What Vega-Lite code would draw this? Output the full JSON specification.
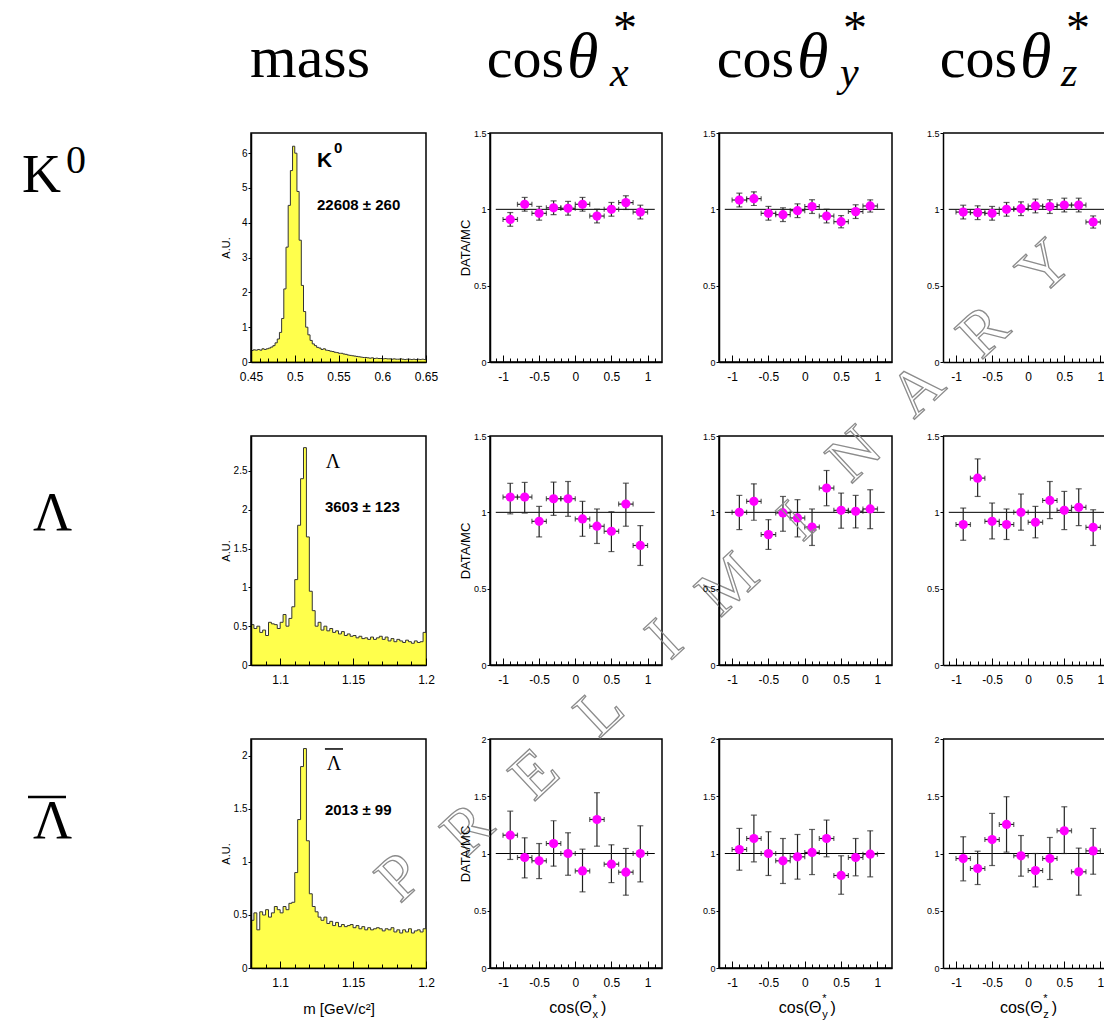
{
"$schema": "https://vega.github.io/schema/vega-lite/v6.json",
"padding": 0,
"background": "white",
"config": {
 "view": {"stroke": null},
 "font": "Liberation Sans",
 "axis": {"grid": false, "labelFont": "Liberation Sans", "labelColor": "#000", "labelFontSize": 11, "tickColor": "#000", "tickWidth": 1, "domainColor": "#000", "domainWidth": 1.5, "labelFlush": false, "labelOverlap": false, "titleFont": "Liberation Sans", "titleFontWeight": "normal", "titleColor": "#000", "zindex": 1, "tickCount": 100},
 "axisX": {"labelFontSize": 12},
 "axisY": {"labelFontSize": 9, "tickSize": 3, "labelPadding": 1}
},
"datasets": {
 "ratio": [
  {"p":"K0x","x":-0.9,"x0":-1,"x1":-0.8,"v":0.934,"lo":0.889,"hi":0.979},
  {"p":"K0x","x":-0.7,"x0":-0.8,"x1":-0.6,"v":1.033,"lo":0.988,"hi":1.078},
  {"p":"K0x","x":-0.5,"x0":-0.6,"x1":-0.4,"v":0.974,"lo":0.929,"hi":1.019},
  {"p":"K0x","x":-0.3,"x0":-0.4,"x1":-0.2,"v":1.010,"lo":0.965,"hi":1.055},
  {"p":"K0x","x":-0.1,"x0":-0.2,"x1":0,"v":1.007,"lo":0.962,"hi":1.052},
  {"p":"K0x","x":0.1,"x0":0,"x1":0.2,"v":1.033,"lo":0.988,"hi":1.078},
  {"p":"K0x","x":0.3,"x0":0.2,"x1":0.4,"v":0.956,"lo":0.911,"hi":1.001},
  {"p":"K0x","x":0.5,"x0":0.4,"x1":0.6,"v":1.000,"lo":0.955,"hi":1.045},
  {"p":"K0x","x":0.7,"x0":0.6,"x1":0.8,"v":1.044,"lo":0.999,"hi":1.089},
  {"p":"K0x","x":0.9,"x0":0.8,"x1":1,"v":0.982,"lo":0.937,"hi":1.027},
  {"p":"K0y","x":-0.9,"x0":-1,"x1":-0.8,"v":1.061,"lo":1.016,"hi":1.106},
  {"p":"K0y","x":-0.7,"x0":-0.8,"x1":-0.6,"v":1.070,"lo":1.025,"hi":1.115},
  {"p":"K0y","x":-0.5,"x0":-0.6,"x1":-0.4,"v":0.974,"lo":0.929,"hi":1.019},
  {"p":"K0y","x":-0.3,"x0":-0.4,"x1":-0.2,"v":0.965,"lo":0.920,"hi":1.010},
  {"p":"K0y","x":-0.1,"x0":-0.2,"x1":0,"v":0.991,"lo":0.946,"hi":1.036},
  {"p":"K0y","x":0.1,"x0":0,"x1":0.2,"v":1.018,"lo":0.973,"hi":1.063},
  {"p":"K0y","x":0.3,"x0":0.2,"x1":0.4,"v":0.956,"lo":0.911,"hi":1.001},
  {"p":"K0y","x":0.5,"x0":0.4,"x1":0.6,"v":0.919,"lo":0.879,"hi":0.959},
  {"p":"K0y","x":0.7,"x0":0.6,"x1":0.8,"v":0.985,"lo":0.940,"hi":1.030},
  {"p":"K0y","x":0.9,"x0":0.8,"x1":1,"v":1.022,"lo":0.982,"hi":1.062},
  {"p":"K0z","x":-0.9,"x0":-1,"x1":-0.8,"v":0.982,"lo":0.937,"hi":1.027},
  {"p":"K0z","x":-0.7,"x0":-0.8,"x1":-0.6,"v":0.978,"lo":0.933,"hi":1.023},
  {"p":"K0z","x":-0.5,"x0":-0.6,"x1":-0.4,"v":0.974,"lo":0.929,"hi":1.019},
  {"p":"K0z","x":-0.3,"x0":-0.4,"x1":-0.2,"v":1.000,"lo":0.955,"hi":1.045},
  {"p":"K0z","x":-0.1,"x0":-0.2,"x1":0,"v":1.004,"lo":0.959,"hi":1.049},
  {"p":"K0z","x":0.1,"x0":0,"x1":0.2,"v":1.022,"lo":0.977,"hi":1.067},
  {"p":"K0z","x":0.3,"x0":0.2,"x1":0.4,"v":1.018,"lo":0.973,"hi":1.063},
  {"p":"K0z","x":0.5,"x0":0.4,"x1":0.6,"v":1.028,"lo":0.983,"hi":1.073},
  {"p":"K0z","x":0.7,"x0":0.6,"x1":0.8,"v":1.028,"lo":0.983,"hi":1.073},
  {"p":"K0z","x":0.9,"x0":0.8,"x1":1,"v":0.917,"lo":0.877,"hi":0.957},
  {"p":"Lx","x":-0.9,"x0":-1,"x1":-0.8,"v":1.100,"lo":0.990,"hi":1.190},
  {"p":"Lx","x":-0.7,"x0":-0.8,"x1":-0.6,"v":1.100,"lo":0.995,"hi":1.196},
  {"p":"Lx","x":-0.5,"x0":-0.6,"x1":-0.4,"v":0.941,"lo":0.839,"hi":1.039},
  {"p":"Lx","x":-0.3,"x0":-0.4,"x1":-0.2,"v":1.089,"lo":0.980,"hi":1.198},
  {"p":"Lx","x":-0.1,"x0":-0.2,"x1":0,"v":1.089,"lo":0.974,"hi":1.202},
  {"p":"Lx","x":0.1,"x0":0,"x1":0.2,"v":0.957,"lo":0.843,"hi":1.072},
  {"p":"Lx","x":0.3,"x0":0.2,"x1":0.4,"v":0.909,"lo":0.796,"hi":1.022},
  {"p":"Lx","x":0.5,"x0":0.4,"x1":0.6,"v":0.876,"lo":0.743,"hi":1.004},
  {"p":"Lx","x":0.7,"x0":0.6,"x1":0.8,"v":1.054,"lo":0.909,"hi":1.191},
  {"p":"Lx","x":0.9,"x0":0.8,"x1":1,"v":0.783,"lo":0.652,"hi":0.913},
  {"p":"Ly","x":-0.9,"x0":-1,"x1":-0.8,"v":1.000,"lo":0.887,"hi":1.111},
  {"p":"Ly","x":-0.7,"x0":-0.8,"x1":-0.6,"v":1.072,"lo":0.948,"hi":1.187},
  {"p":"Ly","x":-0.5,"x0":-0.6,"x1":-0.4,"v":0.854,"lo":0.757,"hi":0.952},
  {"p":"Ly","x":-0.3,"x0":-0.4,"x1":-0.2,"v":0.996,"lo":0.876,"hi":1.104},
  {"p":"Ly","x":-0.1,"x0":-0.2,"x1":0,"v":0.963,"lo":0.839,"hi":1.083},
  {"p":"Ly","x":0.1,"x0":0,"x1":0.2,"v":0.904,"lo":0.783,"hi":1.022},
  {"p":"Ly","x":0.3,"x0":0.2,"x1":0.4,"v":1.159,"lo":1.043,"hi":1.274},
  {"p":"Ly","x":0.5,"x0":0.4,"x1":0.6,"v":1.013,"lo":0.896,"hi":1.126},
  {"p":"Ly","x":0.7,"x0":0.6,"x1":0.8,"v":1.007,"lo":0.898,"hi":1.111},
  {"p":"Ly","x":0.9,"x0":0.8,"x1":1,"v":1.022,"lo":0.893,"hi":1.148},
  {"p":"Lz","x":-0.9,"x0":-1,"x1":-0.8,"v":0.920,"lo":0.817,"hi":1.028},
  {"p":"Lz","x":-0.7,"x0":-0.8,"x1":-0.6,"v":1.224,"lo":1.104,"hi":1.350},
  {"p":"Lz","x":-0.5,"x0":-0.6,"x1":-0.4,"v":0.941,"lo":0.826,"hi":1.061},
  {"p":"Lz","x":-0.3,"x0":-0.4,"x1":-0.2,"v":0.920,"lo":0.822,"hi":1.022},
  {"p":"Lz","x":-0.1,"x0":-0.2,"x1":0,"v":1.000,"lo":0.883,"hi":1.120},
  {"p":"Lz","x":0.1,"x0":0,"x1":0.2,"v":0.935,"lo":0.833,"hi":1.039},
  {"p":"Lz","x":0.3,"x0":0.2,"x1":0.4,"v":1.078,"lo":0.959,"hi":1.202},
  {"p":"Lz","x":0.5,"x0":0.4,"x1":0.6,"v":1.013,"lo":0.887,"hi":1.137},
  {"p":"Lz","x":0.7,"x0":0.6,"x1":0.8,"v":1.033,"lo":0.913,"hi":1.154},
  {"p":"Lz","x":0.9,"x0":0.8,"x1":1,"v":0.902,"lo":0.783,"hi":1.017},
  {"p":"Bx","x":-0.9,"x0":-1,"x1":-0.8,"v":1.160,"lo":0.948,"hi":1.370},
  {"p":"Bx","x":-0.7,"x0":-0.8,"x1":-0.6,"v":0.965,"lo":0.787,"hi":1.137},
  {"p":"Bx","x":-0.5,"x0":-0.6,"x1":-0.4,"v":0.936,"lo":0.781,"hi":1.087},
  {"p":"Bx","x":-0.3,"x0":-0.4,"x1":-0.2,"v":1.087,"lo":0.889,"hi":1.286},
  {"p":"Bx","x":-0.1,"x0":-0.2,"x1":0,"v":1.000,"lo":0.810,"hi":1.181},
  {"p":"Bx","x":0.1,"x0":0,"x1":0.2,"v":0.848,"lo":0.665,"hi":1.038},
  {"p":"Bx","x":0.3,"x0":0.2,"x1":0.4,"v":1.297,"lo":1.064,"hi":1.531},
  {"p":"Bx","x":0.5,"x0":0.4,"x1":0.6,"v":0.907,"lo":0.746,"hi":1.076},
  {"p":"Bx","x":0.7,"x0":0.6,"x1":0.8,"v":0.837,"lo":0.636,"hi":1.044},
  {"p":"Bx","x":0.9,"x0":0.8,"x1":1,"v":1.000,"lo":0.752,"hi":1.242},
  {"p":"By","x":-0.9,"x0":-1,"x1":-0.8,"v":1.035,"lo":0.854,"hi":1.219},
  {"p":"By","x":-0.7,"x0":-0.8,"x1":-0.6,"v":1.131,"lo":0.927,"hi":1.335},
  {"p":"By","x":-0.5,"x0":-0.6,"x1":-0.4,"v":1.000,"lo":0.808,"hi":1.190},
  {"p":"By","x":-0.3,"x0":-0.4,"x1":-0.2,"v":0.936,"lo":0.738,"hi":1.131},
  {"p":"By","x":-0.1,"x0":-0.2,"x1":0,"v":0.971,"lo":0.776,"hi":1.166},
  {"p":"By","x":0.1,"x0":0,"x1":0.2,"v":1.009,"lo":0.816,"hi":1.210},
  {"p":"By","x":0.3,"x0":0.2,"x1":0.4,"v":1.131,"lo":0.971,"hi":1.292},
  {"p":"By","x":0.5,"x0":0.4,"x1":0.6,"v":0.808,"lo":0.644,"hi":0.980},
  {"p":"By","x":0.7,"x0":0.6,"x1":0.8,"v":0.965,"lo":0.805,"hi":1.131},
  {"p":"By","x":0.9,"x0":0.8,"x1":1,"v":0.994,"lo":0.796,"hi":1.198},
  {"p":"Bz","x":-0.9,"x0":-1,"x1":-0.8,"v":0.956,"lo":0.761,"hi":1.146},
  {"p":"Bz","x":-0.7,"x0":-0.8,"x1":-0.6,"v":0.869,"lo":0.729,"hi":1.020},
  {"p":"Bz","x":-0.5,"x0":-0.6,"x1":-0.4,"v":1.122,"lo":0.895,"hi":1.350},
  {"p":"Bz","x":-0.3,"x0":-0.4,"x1":-0.2,"v":1.254,"lo":1.012,"hi":1.496},
  {"p":"Bz","x":-0.1,"x0":-0.2,"x1":0,"v":0.980,"lo":0.802,"hi":1.157},
  {"p":"Bz","x":0.1,"x0":0,"x1":0.2,"v":0.851,"lo":0.708,"hi":1.000},
  {"p":"Bz","x":0.3,"x0":0.2,"x1":0.4,"v":0.956,"lo":0.773,"hi":1.140},
  {"p":"Bz","x":0.5,"x0":0.4,"x1":0.6,"v":1.198,"lo":1.000,"hi":1.408},
  {"p":"Bz","x":0.7,"x0":0.6,"x1":0.8,"v":0.840,"lo":0.636,"hi":1.047},
  {"p":"Bz","x":0.9,"x0":0.8,"x1":1,"v":1.023,"lo":0.819,"hi":1.219}
 ],
 "mK": [
  {"m":0.45,"n":0.33},{"m":0.4525,"n":0.35},{"m":0.455,"n":0.34},{"m":0.4575,"n":0.36},{"m":0.46,"n":0.34},
  {"m":0.4625,"n":0.38},{"m":0.465,"n":0.36},{"m":0.4675,"n":0.38},{"m":0.47,"n":0.40},{"m":0.4725,"n":0.43},
  {"m":0.475,"n":0.47},{"m":0.4775,"n":0.55},{"m":0.48,"n":0.66},{"m":0.4825,"n":0.85},{"m":0.485,"n":1.25},
  {"m":0.4875,"n":2.1},{"m":0.49,"n":3.3},{"m":0.4925,"n":4.5},{"m":0.495,"n":5.5},{"m":0.4975,"n":6.2},
  {"m":0.5,"n":6.0},{"m":0.5025,"n":4.9},{"m":0.505,"n":3.5},{"m":0.5075,"n":2.2},{"m":0.51,"n":1.45},
  {"m":0.5125,"n":1.0},{"m":0.515,"n":0.78},{"m":0.5175,"n":0.62},{"m":0.52,"n":0.52},{"m":0.5225,"n":0.47},
  {"m":0.525,"n":0.42},{"m":0.5275,"n":0.40},{"m":0.53,"n":0.36},{"m":0.5325,"n":0.38},{"m":0.535,"n":0.34},
  {"m":0.5375,"n":0.33},{"m":0.54,"n":0.31},{"m":0.5425,"n":0.30},{"m":0.545,"n":0.28},{"m":0.5475,"n":0.27},
  {"m":0.55,"n":0.25},{"m":0.5525,"n":0.25},{"m":0.555,"n":0.23},{"m":0.5575,"n":0.22},{"m":0.56,"n":0.20},
  {"m":0.5625,"n":0.19},{"m":0.565,"n":0.18},{"m":0.5675,"n":0.17},{"m":0.57,"n":0.16},{"m":0.5725,"n":0.15},
  {"m":0.575,"n":0.14},{"m":0.5775,"n":0.13},{"m":0.58,"n":0.13},{"m":0.5825,"n":0.12},{"m":0.585,"n":0.11},
  {"m":0.5875,"n":0.12},{"m":0.59,"n":0.10},{"m":0.5925,"n":0.11},{"m":0.595,"n":0.10},{"m":0.5975,"n":0.10},
  {"m":0.6,"n":0.09},{"m":0.6025,"n":0.10},{"m":0.605,"n":0.09},{"m":0.6075,"n":0.09},{"m":0.61,"n":0.08},
  {"m":0.6125,"n":0.09},{"m":0.615,"n":0.08},{"m":0.6175,"n":0.08},{"m":0.62,"n":0.09},{"m":0.6225,"n":0.08},
  {"m":0.625,"n":0.07},{"m":0.6275,"n":0.08},{"m":0.63,"n":0.08},{"m":0.6325,"n":0.07},{"m":0.635,"n":0.08},
  {"m":0.6375,"n":0.07},{"m":0.64,"n":0.08},{"m":0.6425,"n":0.07},{"m":0.645,"n":0.08},{"m":0.6475,"n":0.07},
  {"m":0.65,"n":0.07}
 ],
 "mL": [
  {"m":1.080,"n":0.52},{"m":1.082,"n":0.47},{"m":1.084,"n":0.50},{"m":1.086,"n":0.42},{"m":1.088,"n":0.45},
  {"m":1.090,"n":0.38},{"m":1.092,"n":0.55},{"m":1.094,"n":0.53},{"m":1.096,"n":0.52},{"m":1.098,"n":0.47},
  {"m":1.100,"n":0.55},{"m":1.102,"n":0.65},{"m":1.104,"n":0.50},{"m":1.106,"n":0.60},{"m":1.108,"n":0.75},
  {"m":1.110,"n":1.1},{"m":1.112,"n":1.8},{"m":1.114,"n":2.4},{"m":1.116,"n":2.8},{"m":1.118,"n":1.65},
  {"m":1.120,"n":0.95},{"m":1.122,"n":0.70},{"m":1.124,"n":0.50},{"m":1.126,"n":0.55},{"m":1.128,"n":0.45},
  {"m":1.130,"n":0.50},{"m":1.132,"n":0.44},{"m":1.134,"n":0.47},{"m":1.136,"n":0.42},{"m":1.138,"n":0.44},
  {"m":1.140,"n":0.40},{"m":1.142,"n":0.43},{"m":1.144,"n":0.38},{"m":1.146,"n":0.40},{"m":1.148,"n":0.37},
  {"m":1.150,"n":0.38},{"m":1.152,"n":0.35},{"m":1.154,"n":0.37},{"m":1.156,"n":0.34},{"m":1.158,"n":0.35},
  {"m":1.160,"n":0.33},{"m":1.162,"n":0.36},{"m":1.164,"n":0.33},{"m":1.166,"n":0.35},{"m":1.168,"n":0.37},
  {"m":1.170,"n":0.33},{"m":1.172,"n":0.36},{"m":1.174,"n":0.31},{"m":1.176,"n":0.34},{"m":1.178,"n":0.30},
  {"m":1.180,"n":0.33},{"m":1.182,"n":0.31},{"m":1.184,"n":0.29},{"m":1.186,"n":0.32},{"m":1.188,"n":0.30},
  {"m":1.190,"n":0.28},{"m":1.192,"n":0.31},{"m":1.194,"n":0.29},{"m":1.196,"n":0.30},{"m":1.198,"n":0.42},
  {"m":1.200,"n":0.42}
 ],
 "mB": [
  {"m":1.080,"n":0.45},{"m":1.082,"n":0.52},{"m":1.084,"n":0.36},{"m":1.086,"n":0.53},{"m":1.088,"n":0.50},
  {"m":1.090,"n":0.55},{"m":1.092,"n":0.48},{"m":1.094,"n":0.52},{"m":1.096,"n":0.58},{"m":1.098,"n":0.55},
  {"m":1.100,"n":0.52},{"m":1.102,"n":0.58},{"m":1.104,"n":0.55},{"m":1.106,"n":0.61},{"m":1.108,"n":0.62},
  {"m":1.110,"n":0.90},{"m":1.112,"n":1.4},{"m":1.114,"n":1.9},{"m":1.116,"n":2.07},{"m":1.118,"n":1.2},
  {"m":1.120,"n":0.70},{"m":1.122,"n":0.58},{"m":1.124,"n":0.53},{"m":1.126,"n":0.48},{"m":1.128,"n":0.45},
  {"m":1.130,"n":0.48},{"m":1.132,"n":0.42},{"m":1.134,"n":0.44},{"m":1.136,"n":0.40},{"m":1.138,"n":0.43},
  {"m":1.140,"n":0.39},{"m":1.142,"n":0.41},{"m":1.144,"n":0.39},{"m":1.146,"n":0.40},{"m":1.148,"n":0.41},
  {"m":1.150,"n":0.38},{"m":1.152,"n":0.40},{"m":1.154,"n":0.37},{"m":1.156,"n":0.39},{"m":1.158,"n":0.36},
  {"m":1.160,"n":0.38},{"m":1.162,"n":0.36},{"m":1.164,"n":0.37},{"m":1.166,"n":0.38},{"m":1.168,"n":0.37},
  {"m":1.170,"n":0.35},{"m":1.172,"n":0.37},{"m":1.174,"n":0.36},{"m":1.176,"n":0.38},{"m":1.178,"n":0.34},
  {"m":1.180,"n":0.36},{"m":1.182,"n":0.33},{"m":1.184,"n":0.36},{"m":1.186,"n":0.34},{"m":1.188,"n":0.37},
  {"m":1.190,"n":0.33},{"m":1.192,"n":0.35},{"m":1.194,"n":0.36},{"m":1.196,"n":0.34},{"m":1.198,"n":0.37},
  {"m":1.200,"n":0.37}
 ]
},
"columns": 8,
"spacing": {"row": 74, "column": 0},
"bounds": "flush",
"concat": [
 {"width": 251, "height": 59, "data": {"values": []}, "mark": "point"},
 {"width": 175, "height": 59, "data": {"values": [{}]}, "mark": {"type": "text", "text": "mass", "font": "Liberation Serif", "fontSize": 60, "align": "center", "baseline": "alphabetic", "color": "#000"}, "encoding": {"x": {"value": 59}, "y": {"value": 77}}},
 {"width": 64, "height": 59, "data": {"values": []}, "mark": "point"},
 {"width": 172, "height": 59, "data": {"values": [{}]}, "layer": [
   {"mark": {"type": "text", "text": "cos", "font": "Liberation Serif", "fontSize": 58, "align": "right", "baseline": "alphabetic", "color": "#000"}, "encoding": {"x": {"value": 74}, "y": {"value": 77}}},
   {"mark": {"type": "text", "text": "θ", "font": "Liberation Serif", "fontStyle": "italic", "fontSize": 64, "align": "left", "baseline": "alphabetic", "color": "#000"}, "encoding": {"x": {"value": 77}, "y": {"value": 77}}},
   {"mark": {"type": "text", "text": "*", "font": "Liberation Serif", "fontSize": 48, "align": "left", "baseline": "alphabetic", "color": "#000"}, "encoding": {"x": {"value": 123}, "y": {"value": 44}}},
   {"mark": {"type": "text", "text": "x", "font": "Liberation Serif", "fontStyle": "italic", "fontSize": 42, "align": "left", "baseline": "alphabetic", "color": "#000"}, "encoding": {"x": {"value": 120}, "y": {"value": 86}}}
 ]},
 {"width": 57, "height": 59, "data": {"values": []}, "mark": "point"},
 {"width": 173, "height": 59, "data": {"values": [{}]}, "layer": [
   {"mark": {"type": "text", "text": "cos", "font": "Liberation Serif", "fontSize": 58, "align": "right", "baseline": "alphabetic", "color": "#000"}, "encoding": {"x": {"value": 75}, "y": {"value": 77}}},
   {"mark": {"type": "text", "text": "θ", "font": "Liberation Serif", "fontStyle": "italic", "fontSize": 64, "align": "left", "baseline": "alphabetic", "color": "#000"}, "encoding": {"x": {"value": 78}, "y": {"value": 77}}},
   {"mark": {"type": "text", "text": "*", "font": "Liberation Serif", "fontSize": 48, "align": "left", "baseline": "alphabetic", "color": "#000"}, "encoding": {"x": {"value": 124}, "y": {"value": 44}}},
   {"mark": {"type": "text", "text": "y", "font": "Liberation Serif", "fontStyle": "italic", "fontSize": 42, "align": "left", "baseline": "alphabetic", "color": "#000"}, "encoding": {"x": {"value": 121}, "y": {"value": 86}}}
 ]},
 {"width": 51, "height": 59, "data": {"values": []}, "mark": "point"},
 {"width": 161, "height": 59, "data": {"values": [{}]}, "layer": [
   {"mark": {"type": "text", "text": "cos", "font": "Liberation Serif", "fontSize": 58, "align": "right", "baseline": "alphabetic", "color": "#000"}, "encoding": {"x": {"value": 74}, "y": {"value": 77}}},
   {"mark": {"type": "text", "text": "θ", "font": "Liberation Serif", "fontStyle": "italic", "fontSize": 64, "align": "left", "baseline": "alphabetic", "color": "#000"}, "encoding": {"x": {"value": 77}, "y": {"value": 77}}},
   {"mark": {"type": "text", "text": "*", "font": "Liberation Serif", "fontSize": 48, "align": "left", "baseline": "alphabetic", "color": "#000"}, "encoding": {"x": {"value": 123}, "y": {"value": 44}}},
   {"mark": {"type": "text", "text": "z", "font": "Liberation Serif", "fontStyle": "italic", "fontSize": 42, "align": "left", "baseline": "alphabetic", "color": "#000"}, "encoding": {"x": {"value": 118}, "y": {"value": 86}}}
 ]},

 {"width": 251, "height": 229, "data": {"values": [{}]}, "layer": [
   {"mark": {"type": "text", "text": "K", "font": "Liberation Serif", "fontSize": 54, "align": "left", "baseline": "alphabetic", "color": "#000"}, "encoding": {"x": {"value": 22}, "y": {"value": 59}}},
   {"mark": {"type": "text", "text": "0", "font": "Liberation Serif", "fontSize": 40, "align": "left", "baseline": "alphabetic", "color": "#000"}, "encoding": {"x": {"value": 66}, "y": {"value": 40}}}
 ]},
 {"width": 175, "height": 229, "view": {"stroke": "#000", "strokeWidth": 1.5}, "layer": [
   {"data": {"name": "mK"}, "mark": {"type": "area", "interpolate": "step-after", "color": "#ffff00", "line": {"color": "#333", "strokeWidth": 1}},
    "encoding": {
     "x": {"field": "m", "type": "quantitative", "scale": {"domain": [0.45, 0.65], "nice": false, "zero": false},
       "axis": {"values": [0.45,0.46,0.47,0.48,0.49,0.5,0.51,0.52,0.53,0.54,0.55,0.56,0.57,0.58,0.59,0.6,0.61,0.62,0.63,0.64,0.65], "tickCount": 100, "labelExpr": "abs(datum.value*20-round(datum.value*20))<0.001 ? format(datum.value,'.2~f') : ''", "tickSize": {"condition": {"test": "abs(datum.value*20-round(datum.value*20))<0.001", "value": -7}, "value": -4}, "title": null, "labelPadding": 16, "labelOverlap": false, "zindex": 1}},
     "y": {"field": "n", "type": "quantitative", "scale": {"domain": [0, 6.58], "nice": false}, "axis": {"values": [0,1,2,3,4,5,6], "tickCount": 100, "format": "d", "labelFontSize": 10, "labelOverlap": false, "zindex": 1, "title": "A.U.", "titleFontSize": 11, "titleX": -20, "titleY": 114.5}}
    }},
   {"data": {"values": [{}]}, "mark": {"type": "text", "text": "K", "font": "Liberation Sans", "fontWeight": "bold", "fontSize": 21, "align": "left", "baseline": "alphabetic", "color": "#000"}, "encoding": {"x": {"datum": 0.5254}, "y": {"datum": 5.6}}},
   {"data": {"values": [{}]}, "mark": {"type": "text", "text": "0", "font": "Liberation Sans", "fontWeight": "bold", "fontSize": 15, "align": "left", "baseline": "alphabetic", "color": "#000"}, "encoding": {"x": {"datum": 0.5449}, "y": {"datum": 6.0}}},
   {"data": {"values": [{}]}, "mark": {"type": "text", "text": "22608 ± 260", "font": "Liberation Sans", "fontWeight": "bold", "fontSize": 15, "align": "left", "baseline": "alphabetic", "color": "#000"}, "encoding": {"x": {"datum": 0.5254}, "y": {"datum": 4.37}}}
 ]},
 {"width": 64, "height": 10, "data": {"values": []}, "mark": "point"},
 {"width": 172, "height": 229, "view": {"stroke": "#000", "strokeWidth": 1.5}, "layer": [
   {"data": {"values": [{}]}, "mark": {"type": "rule", "color": "#000", "strokeWidth": 1, "clip": true}, "encoding": {"x": {"datum": -1.1}, "x2": {"datum": 1.1}, "y": {"datum": 1}}},
   {"data": {"name": "ratio"}, "transform": [{"filter": "datum.p == 'K0x'"}], "mark": {"type": "errorbar", "color": "#222", "thickness": 1.2, "ticks": {"size": 6, "color": "#222"}}, "encoding": {"x": {"field": "x", "type": "quantitative"}, "y": {"field": "lo", "type": "quantitative", "title": "DATA/MC"}, "y2": {"field": "hi"}}},
   {"data": {"name": "ratio"}, "transform": [{"filter": "datum.p == 'K0x'"}], "mark": {"type": "errorbar", "color": "#222", "thickness": 1.2, "ticks": {"size": 5, "color": "#222"}}, "encoding": {"y": {"field": "v", "type": "quantitative", "title": "DATA/MC"}, "x": {"field": "x0", "type": "quantitative"}, "x2": {"field": "x1"}}},
   {"data": {"name": "ratio"}, "transform": [{"filter": "datum.p == 'K0x'"}], "mark": {"type": "circle", "size": 85, "color": "#ff00ff", "opacity": 1},
    "encoding": {
     "x": {"field": "x", "type": "quantitative", "scale": {"domain": [-1.18, 1.2], "nice": false, "zero": false}, "axis": {"values": [-1.1,-1,-0.9,-0.8,-0.7,-0.6,-0.5,-0.4,-0.3,-0.2,-0.1,0,0.1,0.2,0.3,0.4,0.5,0.6,0.7,0.8,0.9,1,1.1], "tickCount": 100, "labelExpr": "abs(datum.value*2-round(datum.value*2))<0.001 ? replace(format(datum.value,'.1~f'),'\u2212','-') : ''", "tickSize": {"condition": {"test": "abs(datum.value*2-round(datum.value*2))<0.001", "value": -7}, "value": -4}, "title": null, "labelPadding": 16, "labelOverlap": false, "zindex": 1}},
     "y": {"field": "v", "type": "quantitative", "title": "DATA/MC", "scale": {"domain": [0, 1.5], "nice": false, "zero": false}, "axis": {"values": [0,0.5,1,1.5], "tickCount": 100, "format": "~g", "labelOverlap": false, "zindex": 1, "title": "DATA/MC", "titleFontSize": 13, "titleX": -18, "titleY": 114.5}}
    }}
 ]},
 {"width": 57, "height": 10, "data": {"values": []}, "mark": "point"},
 {"width": 173, "height": 229, "view": {"stroke": "#000", "strokeWidth": 1.5}, "layer": [
   {"data": {"values": [{}]}, "mark": {"type": "rule", "color": "#000", "strokeWidth": 1, "clip": true}, "encoding": {"x": {"datum": -1.1}, "x2": {"datum": 1.1}, "y": {"datum": 1}}},
   {"data": {"name": "ratio"}, "transform": [{"filter": "datum.p == 'K0y'"}], "mark": {"type": "errorbar", "color": "#222", "thickness": 1.2, "ticks": {"size": 6, "color": "#222"}}, "encoding": {"x": {"field": "x", "type": "quantitative"}, "y": {"field": "lo", "type": "quantitative"}, "y2": {"field": "hi"}}},
   {"data": {"name": "ratio"}, "transform": [{"filter": "datum.p == 'K0y'"}], "mark": {"type": "errorbar", "color": "#222", "thickness": 1.2, "ticks": {"size": 5, "color": "#222"}}, "encoding": {"y": {"field": "v", "type": "quantitative"}, "x": {"field": "x0", "type": "quantitative"}, "x2": {"field": "x1"}}},
   {"data": {"name": "ratio"}, "transform": [{"filter": "datum.p == 'K0y'"}], "mark": {"type": "circle", "size": 85, "color": "#ff00ff", "opacity": 1},
    "encoding": {
     "x": {"field": "x", "type": "quantitative", "scale": {"domain": [-1.18, 1.2], "nice": false, "zero": false}, "axis": {"values": [-1.1,-1,-0.9,-0.8,-0.7,-0.6,-0.5,-0.4,-0.3,-0.2,-0.1,0,0.1,0.2,0.3,0.4,0.5,0.6,0.7,0.8,0.9,1,1.1], "tickCount": 100, "labelExpr": "abs(datum.value*2-round(datum.value*2))<0.001 ? replace(format(datum.value,'.1~f'),'\u2212','-') : ''", "tickSize": {"condition": {"test": "abs(datum.value*2-round(datum.value*2))<0.001", "value": -7}, "value": -4}, "title": null, "labelPadding": 16, "labelOverlap": false, "zindex": 1}},
     "y": {"field": "v", "type": "quantitative", "scale": {"domain": [0, 1.5], "nice": false, "zero": false}, "axis": {"values": [0,0.5,1,1.5], "tickCount": 100, "format": "~g", "labelOverlap": false, "zindex": 1, "title": null}}
    }}
 ]},
 {"width": 51, "height": 10, "data": {"values": []}, "mark": "point"},
 {"width": 161, "height": 229, "layer": [
   {"data": {"values": [{}]}, "mark": {"type": "rule", "color": "#000", "strokeWidth": 1, "clip": true}, "encoding": {"x": {"datum": -1.1}, "x2": {"datum": 1.1}, "y": {"datum": 1}}},
   {"data": {"values": [{}]}, "mark": {"type": "rule", "color": "#000", "strokeWidth": 1.5}, "encoding": {"y": {"datum": 1.5}}},
   {"data": {"name": "ratio"}, "transform": [{"filter": "datum.p == 'K0z'"}], "mark": {"type": "errorbar", "color": "#222", "thickness": 1.2, "ticks": {"size": 6, "color": "#222"}}, "encoding": {"x": {"field": "x", "type": "quantitative"}, "y": {"field": "lo", "type": "quantitative"}, "y2": {"field": "hi"}}},
   {"data": {"name": "ratio"}, "transform": [{"filter": "datum.p == 'K0z'"}], "mark": {"type": "errorbar", "color": "#222", "thickness": 1.2, "ticks": {"size": 5, "color": "#222"}}, "encoding": {"y": {"field": "v", "type": "quantitative"}, "x": {"field": "x0", "type": "quantitative"}, "x2": {"field": "x1"}}},
   {"data": {"name": "ratio"}, "transform": [{"filter": "datum.p == 'K0z'"}], "mark": {"type": "circle", "size": 85, "color": "#ff00ff", "opacity": 1},
    "encoding": {
     "x": {"field": "x", "type": "quantitative", "scale": {"domain": [-1.18, 1.05], "nice": false, "zero": false}, "axis": {"values": [-1.1,-1,-0.9,-0.8,-0.7,-0.6,-0.5,-0.4,-0.3,-0.2,-0.1,0,0.1,0.2,0.3,0.4,0.5,0.6,0.7,0.8,0.9,1], "tickCount": 100, "labelExpr": "abs(datum.value*2-round(datum.value*2))<0.001 ? replace(format(datum.value,'.1~f'),'\u2212','-') : ''", "tickSize": {"condition": {"test": "abs(datum.value*2-round(datum.value*2))<0.001", "value": -7}, "value": -4}, "title": null, "labelPadding": 16, "labelOverlap": false, "zindex": 1}},
     "y": {"field": "v", "type": "quantitative", "scale": {"domain": [0, 1.5], "nice": false, "zero": false}, "axis": {"values": [0,0.5,1,1.5], "tickCount": 100, "format": "~g", "labelOverlap": false, "zindex": 1, "title": null}}
    }},
   {"data": {"values": [{}]}, "mark": {"type": "text", "text": "R", "font": "Liberation Serif", "fontSize": 64, "angle": -43, "align": "center", "baseline": "middle", "fillOpacity": 0, "stroke": "#8c8c8c", "strokeWidth": 1.3}, "encoding": {"x": {"datum": -0.612}, "y": {"datum": 0.197}}},
   {"data": {"values": [{}]}, "mark": {"type": "text", "text": "Y", "font": "Liberation Serif", "fontSize": 64, "angle": -43, "align": "center", "baseline": "middle", "fillOpacity": 0, "stroke": "#8c8c8c", "strokeWidth": 1.3}, "encoding": {"x": {"datum": 0.233}, "y": {"datum": 0.616}}}
 ]},

 {"width": 251, "height": 229, "data": {"values": [{}]}, "layer": [
   {"mark": {"type": "text", "text": "Λ", "font": "Liberation Serif", "fontSize": 54, "align": "left", "baseline": "alphabetic", "color": "#000"}, "encoding": {"x": {"value": 33}, "y": {"value": 94}}}
 ]},
 {"width": 175, "height": 229, "view": {"stroke": "#000", "strokeWidth": 1.5}, "layer": [
   {"data": {"name": "mL"}, "mark": {"type": "area", "interpolate": "step-after", "color": "#ffff00", "line": {"color": "#333", "strokeWidth": 1}},
    "encoding": {
     "x": {"field": "m", "type": "quantitative", "scale": {"domain": [1.08, 1.2], "nice": false, "zero": false},
       "axis": {"values": [1.08,1.09,1.1,1.11,1.12,1.13,1.14,1.15,1.16,1.17,1.18,1.19,1.2], "tickCount": 100, "labelExpr": "abs(datum.value*20-round(datum.value*20))<0.001 ? format(datum.value,'.2~f') : ''", "tickSize": {"condition": {"test": "abs(datum.value*20-round(datum.value*20))<0.001", "value": -7}, "value": -4}, "title": null, "labelPadding": 16, "labelOverlap": false, "zindex": 1}},
     "y": {"field": "n", "type": "quantitative", "scale": {"domain": [0, 2.95], "nice": false}, "axis": {"values": [0,0.5,1,1.5,2,2.5], "tickCount": 100, "format": "~g", "labelFontSize": 10, "labelOverlap": false, "zindex": 1, "title": "A.U.", "titleFontSize": 11, "titleX": -20, "titleY": 114.5}}
    }},
   {"data": {"values": [{}]}, "mark": {"type": "text", "text": "Λ", "font": "Liberation Serif", "fontSize": 20, "align": "center", "baseline": "alphabetic", "color": "#000"}, "encoding": {"x": {"datum": 1.1362}, "y": {"datum": 2.538}}},
   {"data": {"values": [{}]}, "mark": {"type": "text", "text": "3603 ± 123", "font": "Liberation Sans", "fontWeight": "bold", "fontSize": 15, "align": "left", "baseline": "alphabetic", "color": "#000"}, "encoding": {"x": {"datum": 1.1307}, "y": {"datum": 1.971}}}
 ]},
 {"width": 64, "height": 10, "data": {"values": []}, "mark": "point"},
 {"width": 172, "height": 229, "view": {"stroke": "#000", "strokeWidth": 1.5}, "layer": [
   {"data": {"values": [{}]}, "mark": {"type": "rule", "color": "#000", "strokeWidth": 1, "clip": true}, "encoding": {"x": {"datum": -1.1}, "x2": {"datum": 1.1}, "y": {"datum": 1}}},
   {"data": {"name": "ratio"}, "transform": [{"filter": "datum.p == 'Lx'"}], "mark": {"type": "errorbar", "color": "#222", "thickness": 1.2, "ticks": {"size": 6, "color": "#222"}}, "encoding": {"x": {"field": "x", "type": "quantitative"}, "y": {"field": "lo", "type": "quantitative", "title": "DATA/MC"}, "y2": {"field": "hi"}}},
   {"data": {"name": "ratio"}, "transform": [{"filter": "datum.p == 'Lx'"}], "mark": {"type": "errorbar", "color": "#222", "thickness": 1.2, "ticks": {"size": 5, "color": "#222"}}, "encoding": {"y": {"field": "v", "type": "quantitative", "title": "DATA/MC"}, "x": {"field": "x0", "type": "quantitative"}, "x2": {"field": "x1"}}},
   {"data": {"name": "ratio"}, "transform": [{"filter": "datum.p == 'Lx'"}], "mark": {"type": "circle", "size": 85, "color": "#ff00ff", "opacity": 1},
    "encoding": {
     "x": {"field": "x", "type": "quantitative", "scale": {"domain": [-1.18, 1.2], "nice": false, "zero": false}, "axis": {"values": [-1.1,-1,-0.9,-0.8,-0.7,-0.6,-0.5,-0.4,-0.3,-0.2,-0.1,0,0.1,0.2,0.3,0.4,0.5,0.6,0.7,0.8,0.9,1,1.1], "tickCount": 100, "labelExpr": "abs(datum.value*2-round(datum.value*2))<0.001 ? replace(format(datum.value,'.1~f'),'\u2212','-') : ''", "tickSize": {"condition": {"test": "abs(datum.value*2-round(datum.value*2))<0.001", "value": -7}, "value": -4}, "title": null, "labelPadding": 16, "labelOverlap": false, "zindex": 1}},
     "y": {"field": "v", "type": "quantitative", "title": "DATA/MC", "scale": {"domain": [0, 1.5], "nice": false, "zero": false}, "axis": {"values": [0,0.5,1,1.5], "tickCount": 100, "format": "~g", "labelOverlap": false, "zindex": 1, "title": "DATA/MC", "titleFontSize": 13, "titleX": -18, "titleY": 114.5}}
    }},
   {"data": {"values": [{}]}, "mark": {"type": "text", "text": "I", "font": "Liberation Serif", "fontSize": 64, "angle": -43, "align": "center", "baseline": "middle", "fillOpacity": 0, "stroke": "#8c8c8c", "strokeWidth": 1.3}, "encoding": {"x": {"datum": 1.241}, "y": {"datum": 0.164}}}
 ]},
 {"width": 57, "height": 10, "data": {"values": []}, "mark": "point"},
 {"width": 173, "height": 229, "view": {"stroke": "#000", "strokeWidth": 1.5}, "layer": [
   {"data": {"values": [{}]}, "mark": {"type": "rule", "color": "#000", "strokeWidth": 1, "clip": true}, "encoding": {"x": {"datum": -1.1}, "x2": {"datum": 1.1}, "y": {"datum": 1}}},
   {"data": {"name": "ratio"}, "transform": [{"filter": "datum.p == 'Ly'"}], "mark": {"type": "errorbar", "color": "#222", "thickness": 1.2, "ticks": {"size": 6, "color": "#222"}}, "encoding": {"x": {"field": "x", "type": "quantitative"}, "y": {"field": "lo", "type": "quantitative"}, "y2": {"field": "hi"}}},
   {"data": {"name": "ratio"}, "transform": [{"filter": "datum.p == 'Ly'"}], "mark": {"type": "errorbar", "color": "#222", "thickness": 1.2, "ticks": {"size": 5, "color": "#222"}}, "encoding": {"y": {"field": "v", "type": "quantitative"}, "x": {"field": "x0", "type": "quantitative"}, "x2": {"field": "x1"}}},
   {"data": {"name": "ratio"}, "transform": [{"filter": "datum.p == 'Ly'"}], "mark": {"type": "circle", "size": 85, "color": "#ff00ff", "opacity": 1},
    "encoding": {
     "x": {"field": "x", "type": "quantitative", "scale": {"domain": [-1.18, 1.2], "nice": false, "zero": false}, "axis": {"values": [-1.1,-1,-0.9,-0.8,-0.7,-0.6,-0.5,-0.4,-0.3,-0.2,-0.1,0,0.1,0.2,0.3,0.4,0.5,0.6,0.7,0.8,0.9,1,1.1], "tickCount": 100, "labelExpr": "abs(datum.value*2-round(datum.value*2))<0.001 ? replace(format(datum.value,'.1~f'),'\u2212','-') : ''", "tickSize": {"condition": {"test": "abs(datum.value*2-round(datum.value*2))<0.001", "value": -7}, "value": -4}, "title": null, "labelPadding": 16, "labelOverlap": false, "zindex": 1}},
     "y": {"field": "v", "type": "quantitative", "scale": {"domain": [0, 1.5], "nice": false, "zero": false}, "axis": {"values": [0,0.5,1,1.5], "tickCount": 100, "format": "~g", "labelOverlap": false, "zindex": 1, "title": null}}
    }},
   {"data": {"values": [{}]}, "mark": {"type": "text", "text": "M", "font": "Liberation Serif", "fontSize": 64, "angle": -43, "align": "center", "baseline": "middle", "fillOpacity": 0, "stroke": "#8c8c8c", "strokeWidth": 1.3}, "encoding": {"x": {"datum": -1.056}, "y": {"datum": 0.524}}},
   {"data": {"values": [{}]}, "mark": {"type": "text", "text": "I", "font": "Liberation Serif", "fontSize": 64, "angle": -43, "align": "center", "baseline": "middle", "fillOpacity": 0, "stroke": "#8c8c8c", "strokeWidth": 1.3}, "encoding": {"x": {"datum": -0.107}, "y": {"datum": 0.937}}},
   {"data": {"values": [{}]}, "mark": {"type": "text", "text": "N", "font": "Liberation Serif", "fontSize": 64, "angle": -43, "align": "center", "baseline": "middle", "fillOpacity": 0, "stroke": "#8c8c8c", "strokeWidth": 1.3}, "encoding": {"x": {"datum": 0.691}, "y": {"datum": 1.376}}}
 ]},
 {"width": 51, "height": 10, "data": {"values": []}, "mark": "point"},
 {"width": 161, "height": 229, "layer": [
   {"data": {"values": [{}]}, "mark": {"type": "rule", "color": "#000", "strokeWidth": 1, "clip": true}, "encoding": {"x": {"datum": -1.1}, "x2": {"datum": 1.1}, "y": {"datum": 1}}},
   {"data": {"values": [{}]}, "mark": {"type": "rule", "color": "#000", "strokeWidth": 1.5}, "encoding": {"y": {"datum": 1.5}}},
   {"data": {"name": "ratio"}, "transform": [{"filter": "datum.p == 'Lz'"}], "mark": {"type": "errorbar", "color": "#222", "thickness": 1.2, "ticks": {"size": 6, "color": "#222"}}, "encoding": {"x": {"field": "x", "type": "quantitative"}, "y": {"field": "lo", "type": "quantitative"}, "y2": {"field": "hi"}}},
   {"data": {"name": "ratio"}, "transform": [{"filter": "datum.p == 'Lz'"}], "mark": {"type": "errorbar", "color": "#222", "thickness": 1.2, "ticks": {"size": 5, "color": "#222"}}, "encoding": {"y": {"field": "v", "type": "quantitative"}, "x": {"field": "x0", "type": "quantitative"}, "x2": {"field": "x1"}}},
   {"data": {"name": "ratio"}, "transform": [{"filter": "datum.p == 'Lz'"}], "mark": {"type": "circle", "size": 85, "color": "#ff00ff", "opacity": 1},
    "encoding": {
     "x": {"field": "x", "type": "quantitative", "scale": {"domain": [-1.18, 1.05], "nice": false, "zero": false}, "axis": {"values": [-1.1,-1,-0.9,-0.8,-0.7,-0.6,-0.5,-0.4,-0.3,-0.2,-0.1,0,0.1,0.2,0.3,0.4,0.5,0.6,0.7,0.8,0.9,1], "tickCount": 100, "labelExpr": "abs(datum.value*2-round(datum.value*2))<0.001 ? replace(format(datum.value,'.1~f'),'\u2212','-') : ''", "tickSize": {"condition": {"test": "abs(datum.value*2-round(datum.value*2))<0.001", "value": -7}, "value": -4}, "title": null, "labelPadding": 16, "labelOverlap": false, "zindex": 1}},
     "y": {"field": "v", "type": "quantitative", "scale": {"domain": [0, 1.5], "nice": false, "zero": false}, "axis": {"values": [0,0.5,1,1.5], "tickCount": 100, "format": "~g", "labelOverlap": false, "zindex": 1, "title": null}}
    }},
   {"data": {"values": [{}]}, "mark": {"type": "text", "text": "A", "font": "Liberation Serif", "fontSize": 64, "angle": -43, "align": "center", "baseline": "middle", "fillOpacity": 0, "stroke": "#8c8c8c", "strokeWidth": 1.3}, "encoding": {"x": {"datum": -1.526}, "y": {"datum": 1.801}}}
 ]},

 {"width": 251, "height": 229, "data": {"values": [{}]}, "layer": [
   {"mark": {"type": "rule", "color": "#000", "strokeWidth": 2.5}, "encoding": {"x": {"value": 28}, "x2": {"value": 66}, "y": {"value": 58}}},
   {"mark": {"type": "text", "text": "Λ", "font": "Liberation Serif", "fontSize": 54, "align": "left", "baseline": "alphabetic", "color": "#000"}, "encoding": {"x": {"value": 33}, "y": {"value": 99}}}
 ]},
 {"width": 175, "height": 229, "view": {"stroke": "#000", "strokeWidth": 1.5}, "layer": [
   {"data": {"name": "mB"}, "mark": {"type": "area", "interpolate": "step-after", "color": "#ffff00", "line": {"color": "#333", "strokeWidth": 1}},
    "encoding": {
     "x": {"field": "m", "type": "quantitative", "scale": {"domain": [1.08, 1.2], "nice": false, "zero": false},
       "axis": {"values": [1.08,1.09,1.1,1.11,1.12,1.13,1.14,1.15,1.16,1.17,1.18,1.19,1.2], "tickCount": 100, "labelExpr": "abs(datum.value*20-round(datum.value*20))<0.001 ? format(datum.value,'.2~f') : ''", "tickSize": {"condition": {"test": "abs(datum.value*20-round(datum.value*20))<0.001", "value": -7}, "value": -4}, "title": "m [GeV/c²]", "titleFontSize": 15, "titlePadding": 10, "labelPadding": 16, "labelOverlap": false, "zindex": 1}},
     "y": {"field": "n", "type": "quantitative", "scale": {"domain": [0, 2.16], "nice": false}, "axis": {"values": [0,0.5,1,1.5,2], "tickCount": 100, "format": "~g", "labelFontSize": 10, "labelOverlap": false, "zindex": 1, "title": "A.U.", "titleFontSize": 11, "titleX": -20, "titleY": 114.5}}
    }},
   {"data": {"values": [{}]}, "mark": {"type": "rule", "color": "#000", "strokeWidth": 1.5}, "encoding": {"x": {"datum": 1.1307}, "x2": {"datum": 1.1431}, "y": {"datum": 2.066}}},
   {"data": {"values": [{}]}, "mark": {"type": "text", "text": "Λ", "font": "Liberation Serif", "fontSize": 20, "align": "center", "baseline": "alphabetic", "color": "#000"}, "encoding": {"x": {"datum": 1.1369}, "y": {"datum": 1.868}}},
   {"data": {"values": [{}]}, "mark": {"type": "text", "text": "2013 ± 99", "font": "Liberation Sans", "fontWeight": "bold", "fontSize": 15, "align": "left", "baseline": "alphabetic", "color": "#000"}, "encoding": {"x": {"datum": 1.1307}, "y": {"datum": 1.443}}},
   {"data": {"values": [{}]}, "mark": {"type": "text", "text": "P", "font": "Liberation Serif", "fontSize": 64, "angle": -43, "align": "center", "baseline": "middle", "fillOpacity": 0, "stroke": "#8c8c8c", "strokeWidth": 1.3}, "encoding": {"x": {"datum": 1.1822}, "y": {"datum": 0.849}}}
 ]},
 {"width": 64, "height": 10, "data": {"values": []}, "mark": "point"},
 {"width": 172, "height": 229, "view": {"stroke": "#000", "strokeWidth": 1.5}, "layer": [
   {"data": {"values": [{}]}, "mark": {"type": "rule", "color": "#000", "strokeWidth": 1, "clip": true}, "encoding": {"x": {"datum": -1.1}, "x2": {"datum": 1.1}, "y": {"datum": 1}}},
   {"data": {"name": "ratio"}, "transform": [{"filter": "datum.p == 'Bx'"}], "mark": {"type": "errorbar", "color": "#222", "thickness": 1.2, "ticks": {"size": 6, "color": "#222"}}, "encoding": {"x": {"field": "x", "type": "quantitative"}, "y": {"field": "lo", "type": "quantitative", "title": "DATA/MC"}, "y2": {"field": "hi"}}},
   {"data": {"name": "ratio"}, "transform": [{"filter": "datum.p == 'Bx'"}], "mark": {"type": "errorbar", "color": "#222", "thickness": 1.2, "ticks": {"size": 5, "color": "#222"}}, "encoding": {"y": {"field": "v", "type": "quantitative", "title": "DATA/MC"}, "x": {"field": "x0", "type": "quantitative"}, "x2": {"field": "x1"}}},
   {"data": {"name": "ratio"}, "transform": [{"filter": "datum.p == 'Bx'"}], "mark": {"type": "circle", "size": 85, "color": "#ff00ff", "opacity": 1},
    "encoding": {
     "x": {"field": "x", "type": "quantitative", "scale": {"domain": [-1.18, 1.2], "nice": false, "zero": false}, "axis": {"values": [-1.1,-1,-0.9,-0.8,-0.7,-0.6,-0.5,-0.4,-0.3,-0.2,-0.1,0,0.1,0.2,0.3,0.4,0.5,0.6,0.7,0.8,0.9,1,1.1], "tickCount": 100, "labelExpr": "abs(datum.value*2-round(datum.value*2))<0.001 ? replace(format(datum.value,'.1~f'),'\u2212','-') : ''", "tickSize": {"condition": {"test": "abs(datum.value*2-round(datum.value*2))<0.001", "value": -7}, "value": -4}, "title": null, "labelPadding": 16, "labelOverlap": false, "zindex": 1}},
     "y": {"field": "v", "type": "quantitative", "title": "DATA/MC", "scale": {"domain": [0, 2], "nice": false, "zero": false}, "axis": {"values": [0,0.5,1,1.5,2], "tickCount": 100, "format": "~g", "labelOverlap": false, "zindex": 1, "title": "DATA/MC", "titleFontSize": 13, "titleX": -18, "titleY": 114.5}}
    }},
   {"data": {"values": [{}]}, "mark": {"type": "text", "text": "cos(Θ", "font": "Liberation Sans", "fontSize": 16, "align": "right", "baseline": "alphabetic", "color": "#000"}, "encoding": {"x": {"datum": 0.23}, "y": {"datum": -0.393}}},
   {"data": {"values": [{}]}, "mark": {"type": "text", "text": "*", "font": "Liberation Sans", "fontSize": 11, "align": "left", "baseline": "alphabetic", "color": "#000"}, "encoding": {"x": {"datum": 0.24}, "y": {"datum": -0.297}}},
   {"data": {"values": [{}]}, "mark": {"type": "text", "text": "x", "font": "Liberation Sans", "fontSize": 11, "align": "left", "baseline": "alphabetic", "color": "#000"}, "encoding": {"x": {"datum": 0.24}, "y": {"datum": -0.437}}},
   {"data": {"values": [{}]}, "mark": {"type": "text", "text": ")", "font": "Liberation Sans", "fontSize": 16, "align": "left", "baseline": "alphabetic", "color": "#000"}, "encoding": {"x": {"datum": 0.355}, "y": {"datum": -0.393}}},
   {"data": {"values": [{}]}, "mark": {"type": "text", "text": "R", "font": "Liberation Serif", "fontSize": 64, "angle": -43, "align": "center", "baseline": "middle", "fillOpacity": 0, "stroke": "#8c8c8c", "strokeWidth": 1.3}, "encoding": {"x": {"datum": -1.484}, "y": {"datum": 1.205}}},
   {"data": {"values": [{}]}, "mark": {"type": "text", "text": "E", "font": "Liberation Serif", "fontSize": 64, "angle": -43, "align": "center", "baseline": "middle", "fillOpacity": 0, "stroke": "#8c8c8c", "strokeWidth": 1.3}, "encoding": {"x": {"datum": -0.557}, "y": {"datum": 1.686}}},
   {"data": {"values": [{}]}, "mark": {"type": "text", "text": "L", "font": "Liberation Serif", "fontSize": 64, "angle": -43, "align": "center", "baseline": "middle", "fillOpacity": 0, "stroke": "#8c8c8c", "strokeWidth": 1.3}, "encoding": {"x": {"datum": 0.342}, "y": {"datum": 2.236}}}
 ]},
 {"width": 57, "height": 10, "data": {"values": []}, "mark": "point"},
 {"width": 173, "height": 229, "view": {"stroke": "#000", "strokeWidth": 1.5}, "layer": [
   {"data": {"values": [{}]}, "mark": {"type": "rule", "color": "#000", "strokeWidth": 1, "clip": true}, "encoding": {"x": {"datum": -1.1}, "x2": {"datum": 1.1}, "y": {"datum": 1}}},
   {"data": {"name": "ratio"}, "transform": [{"filter": "datum.p == 'By'"}], "mark": {"type": "errorbar", "color": "#222", "thickness": 1.2, "ticks": {"size": 6, "color": "#222"}}, "encoding": {"x": {"field": "x", "type": "quantitative"}, "y": {"field": "lo", "type": "quantitative"}, "y2": {"field": "hi"}}},
   {"data": {"name": "ratio"}, "transform": [{"filter": "datum.p == 'By'"}], "mark": {"type": "errorbar", "color": "#222", "thickness": 1.2, "ticks": {"size": 5, "color": "#222"}}, "encoding": {"y": {"field": "v", "type": "quantitative"}, "x": {"field": "x0", "type": "quantitative"}, "x2": {"field": "x1"}}},
   {"data": {"name": "ratio"}, "transform": [{"filter": "datum.p == 'By'"}], "mark": {"type": "circle", "size": 85, "color": "#ff00ff", "opacity": 1},
    "encoding": {
     "x": {"field": "x", "type": "quantitative", "scale": {"domain": [-1.18, 1.2], "nice": false, "zero": false}, "axis": {"values": [-1.1,-1,-0.9,-0.8,-0.7,-0.6,-0.5,-0.4,-0.3,-0.2,-0.1,0,0.1,0.2,0.3,0.4,0.5,0.6,0.7,0.8,0.9,1,1.1], "tickCount": 100, "labelExpr": "abs(datum.value*2-round(datum.value*2))<0.001 ? replace(format(datum.value,'.1~f'),'\u2212','-') : ''", "tickSize": {"condition": {"test": "abs(datum.value*2-round(datum.value*2))<0.001", "value": -7}, "value": -4}, "title": null, "labelPadding": 16, "labelOverlap": false, "zindex": 1}},
     "y": {"field": "v", "type": "quantitative", "scale": {"domain": [0, 2], "nice": false, "zero": false}, "axis": {"values": [0,0.5,1,1.5,2], "tickCount": 100, "format": "~g", "labelOverlap": false, "zindex": 1, "title": null}}
    }},
   {"data": {"values": [{}]}, "mark": {"type": "text", "text": "cos(Θ", "font": "Liberation Sans", "fontSize": 16, "align": "right", "baseline": "alphabetic", "color": "#000"}, "encoding": {"x": {"datum": 0.23}, "y": {"datum": -0.393}}},
   {"data": {"values": [{}]}, "mark": {"type": "text", "text": "*", "font": "Liberation Sans", "fontSize": 11, "align": "left", "baseline": "alphabetic", "color": "#000"}, "encoding": {"x": {"datum": 0.24}, "y": {"datum": -0.297}}},
   {"data": {"values": [{}]}, "mark": {"type": "text", "text": "y", "font": "Liberation Sans", "fontSize": 11, "align": "left", "baseline": "alphabetic", "color": "#000"}, "encoding": {"x": {"datum": 0.24}, "y": {"datum": -0.437}}},
   {"data": {"values": [{}]}, "mark": {"type": "text", "text": ")", "font": "Liberation Sans", "fontSize": 16, "align": "left", "baseline": "alphabetic", "color": "#000"}, "encoding": {"x": {"datum": 0.355}, "y": {"datum": -0.393}}}
 ]},
 {"width": 51, "height": 10, "data": {"values": []}, "mark": "point"},
 {"width": 161, "height": 229, "layer": [
   {"data": {"values": [{}]}, "mark": {"type": "rule", "color": "#000", "strokeWidth": 1, "clip": true}, "encoding": {"x": {"datum": -1.1}, "x2": {"datum": 1.1}, "y": {"datum": 1}}},
   {"data": {"values": [{}]}, "mark": {"type": "rule", "color": "#000", "strokeWidth": 1.5}, "encoding": {"y": {"datum": 2}}},
   {"data": {"name": "ratio"}, "transform": [{"filter": "datum.p == 'Bz'"}], "mark": {"type": "errorbar", "color": "#222", "thickness": 1.2, "ticks": {"size": 6, "color": "#222"}}, "encoding": {"x": {"field": "x", "type": "quantitative"}, "y": {"field": "lo", "type": "quantitative"}, "y2": {"field": "hi"}}},
   {"data": {"name": "ratio"}, "transform": [{"filter": "datum.p == 'Bz'"}], "mark": {"type": "errorbar", "color": "#222", "thickness": 1.2, "ticks": {"size": 5, "color": "#222"}}, "encoding": {"y": {"field": "v", "type": "quantitative"}, "x": {"field": "x0", "type": "quantitative"}, "x2": {"field": "x1"}}},
   {"data": {"name": "ratio"}, "transform": [{"filter": "datum.p == 'Bz'"}], "mark": {"type": "circle", "size": 85, "color": "#ff00ff", "opacity": 1},
    "encoding": {
     "x": {"field": "x", "type": "quantitative", "scale": {"domain": [-1.18, 1.05], "nice": false, "zero": false}, "axis": {"values": [-1.1,-1,-0.9,-0.8,-0.7,-0.6,-0.5,-0.4,-0.3,-0.2,-0.1,0,0.1,0.2,0.3,0.4,0.5,0.6,0.7,0.8,0.9,1], "tickCount": 100, "labelExpr": "abs(datum.value*2-round(datum.value*2))<0.001 ? replace(format(datum.value,'.1~f'),'\u2212','-') : ''", "tickSize": {"condition": {"test": "abs(datum.value*2-round(datum.value*2))<0.001", "value": -7}, "value": -4}, "title": null, "labelPadding": 16, "labelOverlap": false, "zindex": 1}},
     "y": {"field": "v", "type": "quantitative", "scale": {"domain": [0, 2], "nice": false, "zero": false}, "axis": {"values": [0,0.5,1,1.5,2], "tickCount": 100, "format": "~g", "labelOverlap": false, "zindex": 1, "title": null}}
    }},
   {"data": {"values": [{}]}, "mark": {"type": "text", "text": "cos(Θ", "font": "Liberation Sans", "fontSize": 16, "align": "right", "baseline": "alphabetic", "color": "#000"}, "encoding": {"x": {"datum": 0.2}, "y": {"datum": -0.393}}},
   {"data": {"values": [{}]}, "mark": {"type": "text", "text": "*", "font": "Liberation Sans", "fontSize": 11, "align": "left", "baseline": "alphabetic", "color": "#000"}, "encoding": {"x": {"datum": 0.21}, "y": {"datum": -0.297}}},
   {"data": {"values": [{}]}, "mark": {"type": "text", "text": "z", "font": "Liberation Sans", "fontSize": 11, "align": "left", "baseline": "alphabetic", "color": "#000"}, "encoding": {"x": {"datum": 0.21}, "y": {"datum": -0.437}}},
   {"data": {"values": [{}]}, "mark": {"type": "text", "text": ")", "font": "Liberation Sans", "fontSize": 16, "align": "left", "baseline": "alphabetic", "color": "#000"}, "encoding": {"x": {"datum": 0.325}, "y": {"datum": -0.393}}}
 ]}
]
}
